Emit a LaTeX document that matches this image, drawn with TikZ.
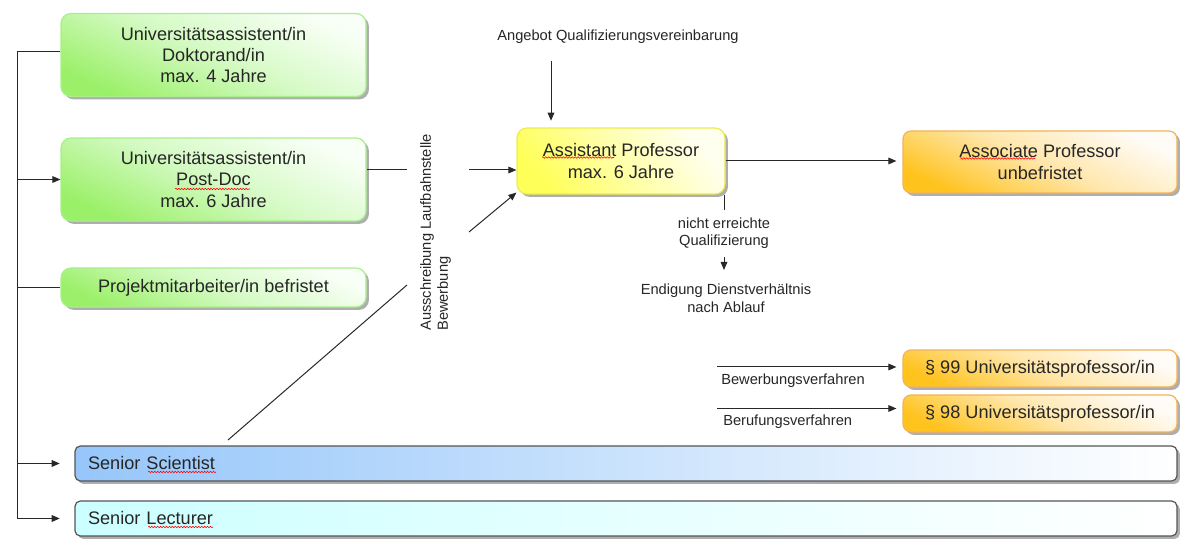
\documentclass[tikz,border=0pt]{standalone}
\usepackage{fontspec}
\setmainfont{Liberation Sans}
\usetikzlibrary{arrows.meta,shadows,decorations.pathmorphing,calc}
\definecolor{grnD}{RGB}{155,240,105}
\definecolor{grnM}{RGB}{212,250,195}
\definecolor{grnL}{RGB}{248,255,246}
\definecolor{grnB}{RGB}{170,238,140}
\definecolor{ylwD}{RGB}{255,255,90}
\definecolor{ylwM}{RGB}{255,255,170}
\definecolor{ylwL}{RGB}{255,255,240}
\definecolor{ylwB}{RGB}{236,236,80}
\definecolor{orgD}{RGB}{255,195,30}
\definecolor{orgM}{RGB}{255,230,170}
\definecolor{orgL}{RGB}{255,252,248}
\definecolor{orgB}{RGB}{242,180,90}
\definecolor{bluD}{RGB}{150,198,250}
\definecolor{cynD}{RGB}{204,255,255}
\definecolor{grB}{RGB}{85,85,85}
\definecolor{lnC}{RGB}{40,40,40}
\begin{document}
\begin{tikzpicture}[x=0.75pt,y=-0.75pt,
  sz/.style 2 args={minimum width=#1*0.75pt, minimum height=#2*0.75pt},
  big/.style={font=\fontsize{13.6}{15.8}\selectfont, align=center, inner sep=0pt, text=black!85},
  small/.style={font=\fontsize{11}{12.8}\selectfont, align=center, inner sep=0pt, text=black!85},
  shd/.style={drop shadow={shadow xshift=2.2pt, shadow yshift=-2.2pt, fill=black!45, opacity=0.7}},
  grnbox/.style={big, shd, draw=grnB, line width=0.9pt, rounded corners=7.5pt, top color=grnL, bottom color=grnD, middle color=grnM, shading angle=-25},
  ylwbox/.style={big, shd, draw=ylwB, line width=0.9pt, rounded corners=7.5pt, top color=ylwL, bottom color=ylwD, middle color=ylwM, shading angle=-50},
  orgbox/.style={big, shd, draw=orgB, line width=0.9pt, rounded corners=6pt, top color=orgL, bottom color=orgD, middle color=orgM, shading angle=-25},
  wide/.style={big, shd, draw=grB, line width=0.9pt, rounded corners=4pt, right color=white, inner xsep=13*0.75pt, inner ysep=0pt, text width=1076*0.75pt, align=left, minimum height=35*0.75pt},
  conn/.style={draw=lnC, line width=0.75pt},
  arr/.style={conn, -{Triangle[length=6pt,width=5pt]}},
  spell/.style={draw=red, line width=0.4pt, decorate, decoration={snake, amplitude=0.6pt, segment length=2.2pt}}
]
\useasboundingbox (0,0) rectangle (1204,548);

% boxes
\node[grnbox, sz={305}{83}] (doc) at (213.5,55) {Universitätsassistent/in\\Doktorand/in\\max. 4 Jahre};
\node[grnbox, sz={305}{83}] (post) at (213.5,179.5) {Universitätsassistent/in\\Post-Doc\\max. 6 Jahre};
\node[grnbox, sz={305}{39}] (proj) at (213.5,287.5) {Projektmitarbeiter/in befristet};
\node[ylwbox, sz={208}{66}] (asst) at (621,161) {Assistant Professor\\max. 6 Jahre};
\node[orgbox, sz={274}{62}] (assoc) at (1040,162) {Associate Professor\\unbefristet};
\node[orgbox, sz={274}{37}] (p99) at (1040,368.5) {§ 99 Universitätsprofessor/in};
\node[orgbox, sz={274}{37}] (p98) at (1040,413.5) {§ 98 Universitätsprofessor/in};
\node[wide, left color=bluD] (sci) at (626,463.5) {Senior Scientist};
\node[wide, left color=cynD] (lect) at (626,518.5) {Senior Lecturer};

% texts
\node[small] (angebot) at (618,37) {Angebot Qualifizierungsvereinbarung};
\node[small, rotate=90, align=left, anchor=west] (ausschr) at (435.5,331) {Ausschreibung Laufbahnstelle\\Bewerbung};
\node[small] (nicht) at (724,233.5) {nicht erreichte\\Qualifizierung};
\node[small, font=\fontsize{11}{13.5}\selectfont] (endig) at (726,298) {Endigung Dienstverhältnis\\nach Ablauf};
\node[small, anchor=west] (bew) at (721,381) {Bewerbungsverfahren};
\node[small, anchor=west] (ber) at (723,421.5) {Berufungsverfahren};

% spell-check underlines
\draw[spell] (175,189) -- (250,189);
\draw[spell] (542,157.5) -- (614,157.5);
\draw[spell] (960,158.5) -- (1035,158.5);
\draw[spell] (148,472) -- (216,472);
\draw[spell] (148,527) -- (213,527);

% left trunk
\coordinate (trunk) at (17,0);
\draw[conn] (doc.west |- 0,52) -- (trunk |- 0,52) -- (trunk |- lect.west);
\draw[arr] (trunk |- post.west) -- (post.west);
\draw[conn] (trunk |- proj.west) -- (proj.west);
\draw[arr, shorten >=11pt] (trunk |- sci.west) -- (sci.west);
\draw[arr, shorten >=11pt] (trunk |- lect.west) -- (lect.west);

% post-doc to assistant
\coordinate (pd1) at (407,170);
\coordinate (pd2) at (469,170);
\draw[conn] (post.east |- pd1) -- (pd1);
\draw[arr] (pd2) -- (pd2 -| asst.west);
\coordinate (dg1) at (469,232);
\draw[arr] (dg1) -- ([yshift=1.5pt]asst.south west);
\coordinate (dg2) at (407,285);
\coordinate (dg0) at (228,440);
\draw[conn] (dg0) -- (dg2);

% angebot arrow
\coordinate (ang) at (551,61);
\draw[arr, shorten >=5pt] (ang) -- (ang |- asst.north);

% assistant to associate
\draw[arr, shorten >=4.5pt] (asst.east) -- (asst.east -| assoc.west);

% not achieved
\coordinate (q) at (724,210);
\draw[conn] (q |- asst.south) -- (q);
\coordinate (e1) at (724,257);
\coordinate (e2) at (724,270);
\draw[arr] (e1) -- (e2);

% professor arrows
\coordinate (b1) at (717,367);
\coordinate (b2) at (717,408.5);
\draw[arr, shorten >=4.5pt] (b1) -- (b1 -| p99.west);
\draw[arr, shorten >=4.5pt] (b2) -- (b2 -| p98.west);
\end{tikzpicture}
\end{document}
